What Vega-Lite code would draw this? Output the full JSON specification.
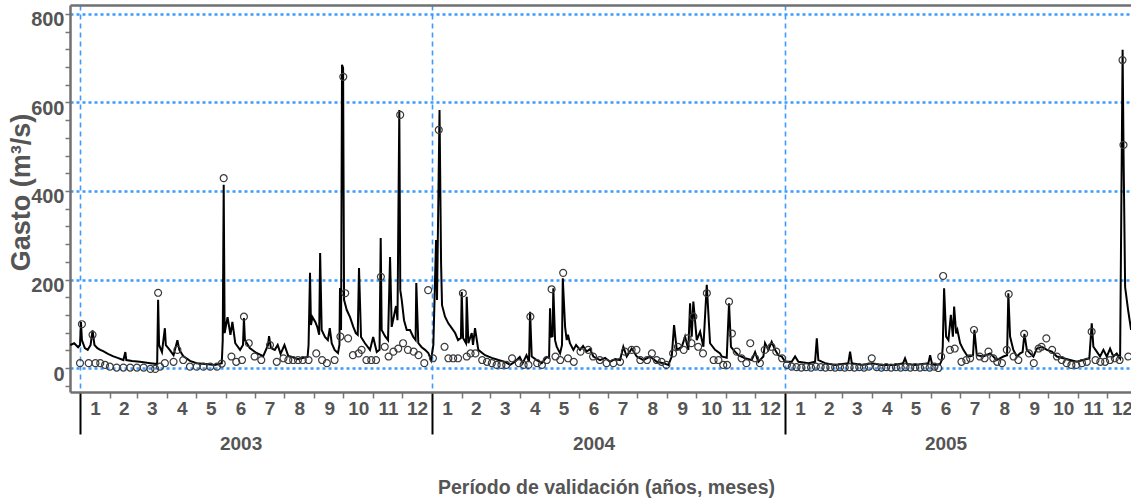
{
  "$schema": "https://vega.github.io/schema/vega-lite/v6.json",
  "width": 1061,
  "height": 387,
  "autosize": {"type": "none"},
  "padding": {"left": 70, "top": 5, "right": 0, "bottom": 107},
  "background": "white",
  "config": {"view": {"stroke": null}, "font": "Liberation Sans"},
  "datasets": {
    "sim": [
      {"d":-10,"q":52},{"d":-6,"q":56},{"d":-2,"q":47},{"d":0,"q":52},{"d":1,"q":104},{"d":2,"q":63},{"d":5,"q":45},{"d":8,"q":41},{"d":11,"q":52},{"d":13,"q":85},{"d":15,"q":52},{"d":18,"q":45},{"d":21,"q":41},{"d":24,"q":38},{"d":29,"q":32},{"d":34,"q":27},{"d":39,"q":23},{"d":45,"q":18},{"d":47,"q":36},{"d":48,"q":18},{"d":54,"q":16},{"d":62,"q":14},{"d":73,"q":11},{"d":80,"q":9},{"d":81,"q":154},{"d":82,"q":52},{"d":85,"q":36},{"d":88,"q":90},{"d":89,"q":52},{"d":93,"q":41},{"d":97,"q":29},{"d":101,"q":63},{"d":103,"q":41},{"d":107,"q":27},{"d":114,"q":16},{"d":121,"q":11},{"d":130,"q":9},{"d":140,"q":7},{"d":147,"q":11},{"d":148,"q":63},{"d":149,"q":414},{"d":150,"q":79},{"d":153,"q":115},{"d":156,"q":75},{"d":158,"q":104},{"d":161,"q":56},{"d":166,"q":41},{"d":169,"q":52},{"d":170,"q":113},{"d":171,"q":63},{"d":176,"q":45},{"d":183,"q":34},{"d":190,"q":27},{"d":195,"q":52},{"d":196,"q":72},{"d":198,"q":45},{"d":202,"q":41},{"d":205,"q":52},{"d":208,"q":32},{"d":212,"q":52},{"d":216,"q":27},
      {"d":220,"q":25},{"d":226,"q":20},{"d":232,"q":23},{"d":236,"q":25},{"d":237,"q":52},{"d":238.5,"q":215},{"d":239.5,"q":97},{"d":241,"q":115},{"d":244,"q":104},{"d":246,"q":93},{"d":248,"q":75},{"d":249,"q":260},{"d":250.6,"q":86},{"d":254,"q":70},{"d":257,"q":63},{"d":259,"q":90},{"d":261,"q":56},{"d":264,"q":41},{"d":267.5,"q":34},{"d":269,"q":52},{"d":269.6,"q":181},{"d":270.7,"q":86},{"d":271.7,"q":685},{"d":272.8,"q":678},{"d":273.8,"q":154},{"d":276.6,"q":131},{"d":280,"q":115},{"d":283.4,"q":93},{"d":286,"q":79},{"d":288,"q":75},{"d":289.3,"q":226},{"d":291.4,"q":70},{"d":295.5,"q":56},{"d":300.7,"q":41},{"d":304,"q":70},{"d":307.7,"q":36},{"d":310.6,"q":41},{"d":311.8,"q":294},{"d":312.8,"q":86},{"d":316.3,"q":72},{"d":319.4,"q":63},{"d":321.5,"q":251},{"d":323.2,"q":93},{"d":325.6,"q":118},{"d":327.7,"q":140},{"d":329.2,"q":108},{"d":331.1,"q":583},{"d":332.1,"q":176},{"d":333.6,"q":154},{"d":336,"q":108},{"d":338.8,"q":86},{"d":342.2,"q":86},{"d":345.6,"q":70},{"d":348,"q":63},{"d":348.7,"q":192},{"d":350.8,"q":56},{"d":354.3,"q":47},{"d":357.8,"q":41},{"d":361.2,"q":34},{"d":364,"q":18},{"d":366.4,"q":52},{"d":369.2,"q":289},{"d":370.2,"q":154},{"d":372.8,"q":583},{"d":374.4,"q":237},{"d":375.4,"q":142},{"d":378.5,"q":116},{"d":381.9,"q":101},{"d":385.5,"q":90},{"d":389,"q":79},{"d":392,"q":63},{"d":395,"q":68},{"d":395.8,"q":172},{"d":397.2,"q":68},{"d":400.3,"q":56},{"d":401,"q":161},{"d":402.7,"q":56},{"d":406.2,"q":79},{"d":407.5,"q":52},{"d":409.6,"q":90},{"d":413,"q":41},{"d":420,"q":29},{"d":427,"q":23},{"d":433.8,"q":18},{"d":440.7,"q":14},
      {"d":446,"q":7},{"d":451,"q":14},{"d":456,"q":25},{"d":459,"q":11},{"d":463,"q":29},{"d":465.6,"q":14},{"d":466.7,"q":127},{"d":468.4,"q":26},{"d":473.6,"q":18},{"d":478.8,"q":11},{"d":484,"q":25},{"d":486.4,"q":23},{"d":487.4,"q":135},{"d":488.4,"q":71},{"d":490,"q":72},{"d":490.8,"q":180},{"d":492.6,"q":63},{"d":494.3,"q":48},{"d":497.8,"q":33},{"d":499.8,"q":52},{"d":500.6,"q":203},{"d":503,"q":93},{"d":504.7,"q":63},{"d":506,"q":75},{"d":508,"q":56},{"d":511.6,"q":41},{"d":514.4,"q":52},{"d":518.5,"q":41},{"d":521.6,"q":50},{"d":525.4,"q":37},{"d":528.9,"q":43},{"d":532.3,"q":26},{"d":539.2,"q":18},{"d":544.4,"q":23},{"d":549.6,"q":14},{"d":554.8,"q":20},{"d":560,"q":18},{"d":563.4,"q":48},{"d":566.9,"q":26},{"d":572.1,"q":44},{"d":577.3,"q":26},{"d":584.2,"q":18},{"d":591.1,"q":26},{"d":598,"q":14},{"d":604.9,"q":11},{"d":610.1,"q":7},{"d":613.6,"q":26},{"d":616,"q":97},{"d":618.8,"q":41},{"d":624,"q":48},{"d":627.4,"q":71},{"d":630.8,"q":41},{"d":632.6,"q":146},{"d":634.3,"q":71},{"d":636,"q":150},{"d":639.5,"q":63},{"d":643,"q":82},{"d":646.4,"q":48},{"d":649.9,"q":188},{"d":653.3,"q":56},{"d":658.5,"q":41},{"d":663.7,"q":33},
      {"d":665.4,"q":26},{"d":670.6,"q":23},{"d":673,"q":146},{"d":675,"q":48},{"d":677.5,"q":41},{"d":682.6,"q":29},{"d":689.6,"q":22},{"d":696.5,"q":18},{"d":700,"q":36},{"d":703.4,"q":14},{"d":708.6,"q":26},{"d":710.3,"q":56},{"d":713.8,"q":41},{"d":717.2,"q":59},{"d":720.7,"q":41},{"d":724.1,"q":29},{"d":727.7,"q":26},{"d":731.1,"q":14},{"d":738,"q":14},{"d":741.5,"q":26},{"d":744.9,"q":14},{"d":755.3,"q":11},{"d":762.2,"q":14},{"d":764,"q":67},{"d":765.6,"q":18},{"d":772.6,"q":11},{"d":783,"q":7},{"d":796.7,"q":11},{"d":798.5,"q":37},{"d":800.3,"q":11},{"d":810.6,"q":7},{"d":821,"q":11},{"d":831.4,"q":7},{"d":845.2,"q":7},{"d":853.5,"q":11},{"d":855.5,"q":22},{"d":857.6,"q":9},{"d":865.9,"q":7},{"d":879.7,"q":11},{"d":881.5,"q":29},{"d":883.5,"q":9},{"d":886.6,"q":7},
      {"d":891.8,"q":9},{"d":893.6,"q":18},{"d":894.6,"q":48},{"d":896,"q":180},{"d":898.1,"q":71},{"d":900.5,"q":63},{"d":903,"q":120},{"d":905.1,"q":71},{"d":906.4,"q":139},{"d":908.5,"q":78},{"d":909.8,"q":86},{"d":912.6,"q":56},{"d":916,"q":41},{"d":919.6,"q":29},{"d":923,"q":26},{"d":926,"q":29},{"d":927.4,"q":86},{"d":929.9,"q":29},{"d":936.7,"q":26},{"d":943.7,"q":33},{"d":950.6,"q":18},{"d":957.5,"q":26},{"d":961.3,"q":29},{"d":962.6,"q":169},{"d":964.4,"q":71},{"d":967.8,"q":41},{"d":971.4,"q":26},{"d":974.8,"q":33},{"d":977.4,"q":36},{"d":979.3,"q":77},{"d":981.8,"q":41},{"d":985.2,"q":33},{"d":988.6,"q":26},{"d":992.2,"q":44},{"d":997.4,"q":48},{"d":1002.6,"q":41},{"d":1007.7,"q":37},{"d":1012.9,"q":26},{"d":1019.7,"q":22},{"d":1026.6,"q":18},{"d":1033.6,"q":14},{"d":1040.4,"q":18},{"d":1046.6,"q":22},{"d":1049.1,"q":101},{"d":1050.8,"q":48},{"d":1054.3,"q":37},{"d":1057.7,"q":26},{"d":1061.2,"q":41},{"d":1064.7,"q":26},{"d":1068.1,"q":44},{"d":1071.5,"q":26},{"d":1075,"q":33},{"d":1078.5,"q":22},{"d":1081.1,"q":719},{"d":1082.1,"q":481},{"d":1083.7,"q":183},{"d":1086.8,"q":131},{"d":1089.9,"q":86}
    ],
    "obs": [
      {"d":0,"q":11},{"d":2,"q":99},{"d":9,"q":11},{"d":13,"q":75},{"d":16,"q":11},{"d":21,"q":11},{"d":26,"q":7},{"d":31,"q":3},{"d":38,"q":1},{"d":45,"q":1},{"d":52,"q":1},{"d":59,"q":1},{"d":66,"q":1},{"d":73,"q":-2},{"d":78,"q":-2},{"d":81,"q":170},{"d":83,"q":3},{"d":88,"q":11},{"d":97,"q":14},{"d":101,"q":41},{"d":107,"q":18},{"d":114,"q":3},{"d":121,"q":3},{"d":128,"q":3},{"d":135,"q":3},{"d":142,"q":3},{"d":147,"q":10},{"d":149,"q":429},{"d":157,"q":26},{"d":162,"q":14},{"d":168,"q":18},{"d":170,"q":116},{"d":175,"q":56},{"d":181,"q":26},{"d":188,"q":18},{"d":197,"q":52},{"d":204,"q":14},{"d":211,"q":22},
      {"d":216,"q":18},{"d":221,"q":18},{"d":226,"q":18},{"d":231,"q":18},{"d":237,"q":18},{"d":245,"q":33},{"d":251,"q":18},{"d":256,"q":11},{"d":264,"q":18},{"d":270,"q":71},{"d":273,"q":658},{"d":275,"q":169},{"d":278,"q":67},{"d":283,"q":29},{"d":289,"q":33},{"d":292,"q":41},{"d":297,"q":18},{"d":302,"q":18},{"d":307,"q":18},{"d":312,"q":206},{"d":316,"q":48},{"d":320,"q":26},{"d":325,"q":37},{"d":330,"q":44},{"d":332,"q":572},{"d":335,"q":56},{"d":340,"q":41},{"d":346,"q":37},{"d":351,"q":29},{"d":357,"q":11},{"d":361,"q":176},{"d":366,"q":22},{"d":372,"q":538},{"d":378,"q":48},{"d":382,"q":22},{"d":387,"q":22},{"d":392,"q":22},{"d":397,"q":169},{"d":401,"q":26},{"d":405,"q":33},{"d":410,"q":33},{"d":417,"q":18},{"d":422,"q":14},{"d":427,"q":11},{"d":432,"q":7},{"d":437,"q":7},
      {"d":442,"q":7},{"d":448,"q":22},{"d":455,"q":11},{"d":460,"q":7},{"d":465,"q":7},{"d":467,"q":116},{"d":474,"q":11},{"d":479,"q":7},{"d":484,"q":18},{"d":489,"q":178},{"d":493,"q":26},{"d":498,"q":18},{"d":501,"q":215},{"d":506,"q":22},{"d":512,"q":14},{"d":519,"q":37},{"d":527,"q":41},{"d":532,"q":26},{"d":539,"q":18},{"d":546,"q":11},{"d":553,"q":11},{"d":560,"q":14},{"d":565,"q":37},{"d":572,"q":41},{"d":577,"q":41},{"d":581,"q":18},{"d":588,"q":18},{"d":593,"q":33},{"d":598,"q":18},{"d":603,"q":14},{"d":608,"q":7},{"d":615,"q":33},{"d":620,"q":48},{"d":626,"q":41},{"d":630,"q":67},{"d":634,"q":56},{"d":636,"q":116},{"d":641,"q":48},{"d":646,"q":33},{"d":650,"q":169},{"d":657,"q":18},{"d":662,"q":18},
      {"d":667,"q":7},{"d":671,"q":7},{"d":673,"q":150},{"d":676,"q":78},{"d":681,"q":37},{"d":686,"q":22},{"d":691,"q":11},{"d":695,"q":56},{"d":700,"q":22},{"d":705,"q":11},{"d":710,"q":41},{"d":717,"q":48},{"d":722,"q":37},{"d":728,"q":22},{"d":733,"q":7},{"d":738,"q":3},{"d":743,"q":2},{"d":748,"q":1},{"d":753,"q":2},{"d":758,"q":1},{"d":763,"q":3},{"d":768,"q":2},{"d":773,"q":1},{"d":778,"q":2},{"d":783,"q":1},{"d":788,"q":2},{"d":793,"q":1},{"d":798,"q":2},{"d":803,"q":1},{"d":808,"q":2},{"d":813,"q":1},{"d":818,"q":3},{"d":821,"q":22},{"d":826,"q":2},{"d":831,"q":1},{"d":836,"q":2},{"d":841,"q":1},{"d":846,"q":2},{"d":851,"q":1},{"d":856,"q":2},{"d":861,"q":1},{"d":866,"q":2},{"d":871,"q":1},{"d":876,"q":2},{"d":881,"q":1},{"d":886,"q":3},
      {"d":890,"q":0},{"d":893,"q":26},{"d":895,"q":208},{"d":902,"q":41},{"d":907,"q":44},{"d":914,"q":14},{"d":919,"q":18},{"d":923,"q":22},{"d":927,"q":86},{"d":933,"q":26},{"d":938,"q":22},{"d":942,"q":37},{"d":947,"q":22},{"d":951,"q":14},{"d":956,"q":11},{"d":961,"q":41},{"d":963,"q":167},{"d":968,"q":26},{"d":973,"q":18},{"d":979,"q":77},{"d":984,"q":33},{"d":989,"q":11},{"d":994,"q":44},{"d":997,"q":48},{"d":1002,"q":67},{"d":1008,"q":41},{"d":1013,"q":26},{"d":1018,"q":18},{"d":1023,"q":11},{"d":1028,"q":7},{"d":1033,"q":7},{"d":1039,"q":11},{"d":1044,"q":14},{"d":1049,"q":82},{"d":1053,"q":18},{"d":1058,"q":14},{"d":1063,"q":14},{"d":1068,"q":18},{"d":1073,"q":22},{"d":1078,"q":18},{"d":1081,"q":696},{"d":1082,"q":504},{"d":1087,"q":26}
    ]
  },
  "layer": [
    {
      "data": {"name": "sim"},
      "mark": {"type": "line", "color": "#000000", "strokeWidth": 2, "clip": true},
      "encoding": {
        "x": {
          "field": "d", "type": "quantitative",
          "scale": {"domain": [-10.37, 1089.8], "nice": false, "zero": false},
          "axis": {
            "orient": "bottom",
            "values": [0,31,59,90,120,151,181,212,243,273,304,334,365,396,425,456,486,517,547,578,609,639,670,700,731,762,790,821,851,882,912,943,974,1004,1035,1065,15.5,45.5,74.5,105.5,135.5,166.5,196.5,227.5,258.5,288.5,319.5,349.5,380.5,410.5,440.5,471.5,501.5,532.5,562.5,593.5,624.5,654.5,685.5,715.5,746.5,776.5,805.5,836.5,866.5,897.5,927.5,958.5,989.5,1019.5,1050.5,1080.5],
            "tickCount": 1000,
            "labelExpr": "datum.value % 1 == 0 ? '' : (floor((datum.value < 365 ? datum.value : datum.value < 731 ? datum.value - 365 : datum.value - 731) / 30.5) + 1 == 6 ? ['6', datum.value < 365 ? '2003' : datum.value < 731 ? '2004' : '2005'] : '' + (floor((datum.value < 365 ? datum.value : datum.value < 731 ? datum.value - 365 : datum.value - 731) / 30.5) + 1))",
            "labelOverlap": false,
            "labelFlush": false,
            "labelFont": "Liberation Sans",
            "labelFontWeight": "bold",
            "labelFontSize": 19,
            "labelColor": "#555555",
            "labelPadding": 1,
            "labelLineHeight": 35,
            "labelBaseline": "top",
            "ticks": true,
            "tickSize": {"condition": {"test": "datum.value == 0 || datum.value == 365 || datum.value == 731", "value": 42}, "value": 6},
            "tickColor": {"condition": {"test": "datum.value == 0 || datum.value == 365 || datum.value == 731", "value": "#000000"}, "value": "#777777"},
            "tickWidth": {"condition": {"test": "datum.value == 0 || datum.value == 365 || datum.value == 731", "value": 2}, "value": 1.5},
            "tickOpacity": {"condition": {"test": "datum.value % 1 != 0", "value": 0}, "value": 1},
            "grid": true,
            "gridColor": "#3d9aff",
            "gridDash": [5, 4],
            "gridWidth": 1.6,
            "gridOpacity": {"condition": {"test": "datum.value == 0 || datum.value == 365 || datum.value == 731", "value": 1}, "value": 0},
            "domainColor": "#707070",
            "domainWidth": 2.5,
            "title": "Período de validación (años, meses)",
            "titleFont": "Liberation Sans",
            "titleFontWeight": "bold",
            "titleFontSize": 19.5,
            "titleColor": "#555555",
            "titleX": 536,
            "titleY": 95,
            "titleBaseline": "middle",
            "titleAlign": "center"
          }
        },
        "y": {
          "field": "q", "type": "quantitative",
          "scale": {"domain": [-54.2, 820.3], "nice": false, "zero": false},
          "axis": {
            "values": [-40,0,40,80,120,160,200,240,280,320,360,400,440,480,520,560,600,640,680,720,760,800],
            "tickCount": 1000,
            "labelExpr": "abs(datum.value / 200 - round(datum.value / 200)) < 0.01 ? '' + round(datum.value) : ''",
            "labelFont": "Liberation Sans",
            "labelFontWeight": "bold",
            "labelFontSize": 20,
            "labelColor": "#555555",
            "labelPadding": 1,
            "labelOffset": 6,
            "labelOverlap": false,
            "labelFlush": false,
            "labelBound": false,
            "tickSize": 5,
            "tickColor": "#777777",
            "tickWidth": 1.5,
            "grid": true,
            "gridColor": "#3d9aff",
            "gridDash": [3, 3],
            "gridWidth": 2.3,
            "gridOpacity": {"condition": {"test": "abs(datum.value / 200 - round(datum.value / 200)) < 0.01", "value": 1}, "value": 0},
            "domainColor": "#707070",
            "domainWidth": 2.5,
            "title": "Gasto (m³/s)",
            "titleFont": "Liberation Sans",
            "titleFontWeight": "bold",
            "titleFontSize": 27,
            "titleColor": "#555555",
            "titleX": -49,
            "titleY": 187,
            "titleAngle": -90,
            "titleBaseline": "middle",
            "titleAlign": "center"
          }
        }
      }
    },
    {
      "data": {"name": "obs"},
      "mark": {"type": "point", "shape": "circle", "filled": false, "color": "#3a3a3a", "size": 48, "strokeWidth": 1.2, "opacity": 1, "clip": true},
      "encoding": {
        "x": {
          "field": "d", "type": "quantitative",
          "axis": {"orient": "top", "labels": false, "ticks": false, "grid": false, "title": null, "domainColor": "#707070", "domainWidth": 2.5}
        },
        "y": {"field": "q", "type": "quantitative", "axis": {"tickCount": 1000}}
      }
    }
  ],
  "resolve": {"axis": {"x": "independent"}}
}
